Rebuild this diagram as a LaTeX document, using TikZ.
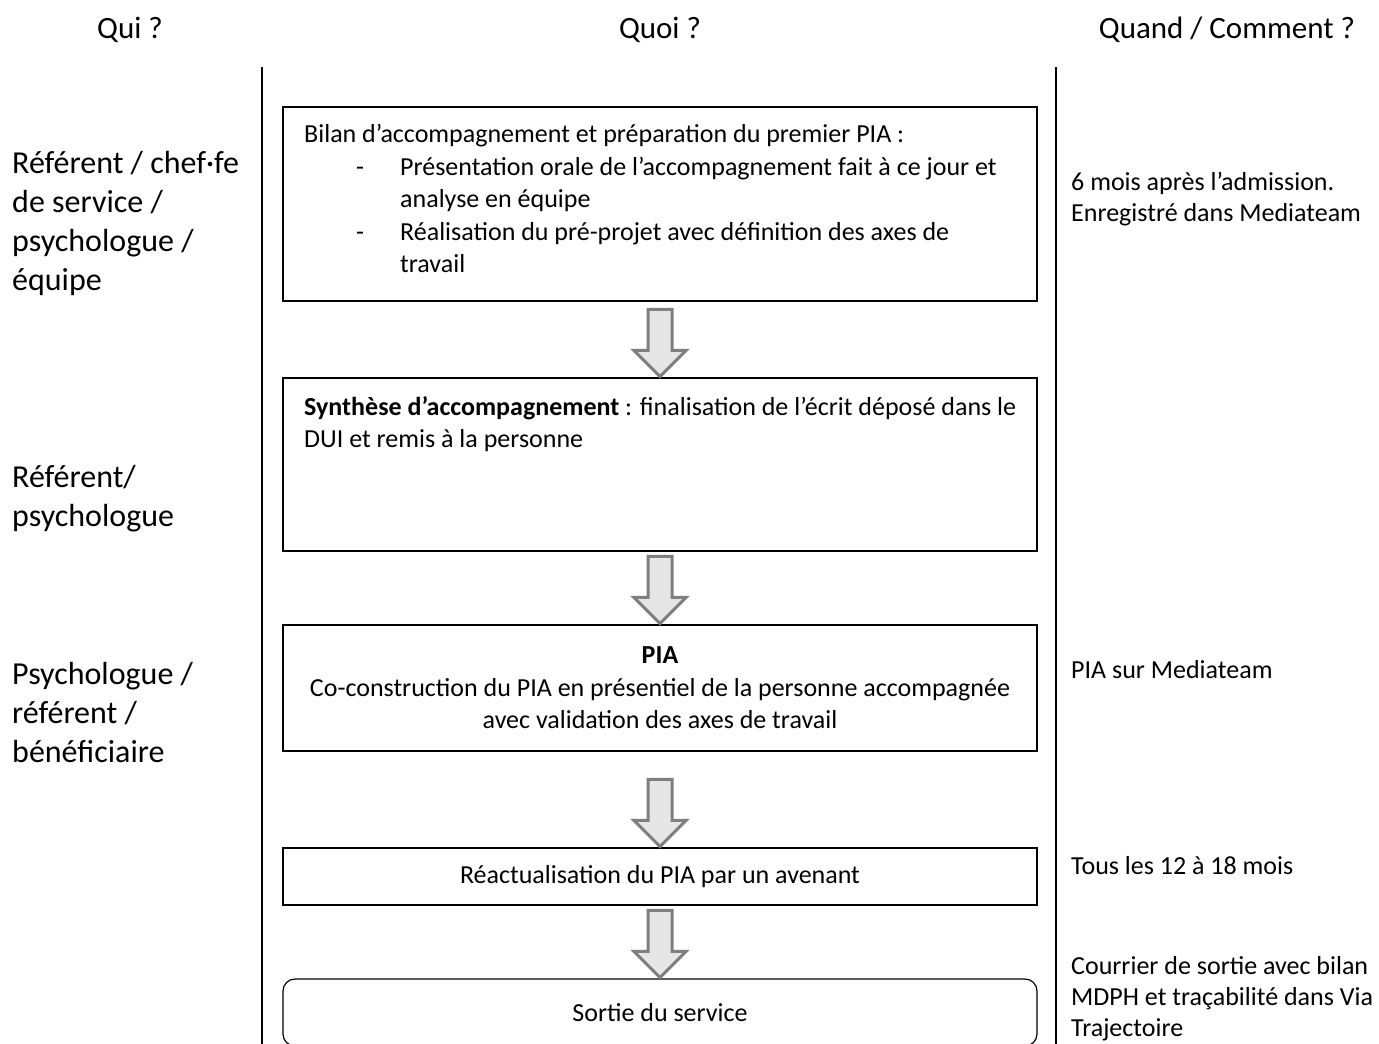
\documentclass[tikz,border=0pt]{standalone}
\usepackage{fontspec}
\setmainfont{Carlito}
\usetikzlibrary{calc,positioning}
\definecolor{arrowgray}{RGB}{127,127,127}
\definecolor{arrowfill}{RGB}{231,230,230}

% block arrow from the bottom of one box to the top of the next
\newcommand{\flowarrow}[2]{%
  \draw[bigarrow] let \p1=(#1.south), \p2=(#2.north) in
    (\x1-12pt,\y2+68pt) -- (\x1+12pt,\y2+68pt) -- (\x1+12pt,\y2+27pt)
    -- (\x1+26pt,\y2+27pt) -- (\x1,\y2+1pt) -- (\x1-26pt,\y2+27pt)
    -- (\x1-12pt,\y2+27pt) -- cycle;}

\begin{document}
\begin{tikzpicture}[x=1pt,y=-1pt,
    head/.style={font=\fontsize{31}{37}\selectfont, inner sep=0pt},
    who/.style={font=\fontsize{32}{39}\selectfont, align=left, anchor=west, inner sep=0pt},
    when/.style={font=\fontsize{26}{31}\selectfont, align=left, anchor=west, inner sep=0pt},
    stepbox/.style={draw, line width=1.2pt, minimum width=754pt, inner sep=0pt,
                    align=center, font=\fontsize{26}{32.5}\selectfont},
    boxtxt/.style={font=\fontsize{26}{32.5}\selectfont, align=left, anchor=north west, inner sep=0pt},
    bigarrow/.style={draw=arrowgray, fill=arrowfill, line width=3pt}]
    \path[use as bounding box, clip] (0,0) rectangle (1379,1044);

    % column titles
    \node[head] (qui) at (130,30) {Qui ?};
    \node[head] (quoi) at (660,30) {Quoi ?};
    \node[head] (quand) at (1227,30) {Quand / Comment ?};

    \draw[line width=2pt] (262,67) -- (262,1044);
    \draw[line width=2pt] (1056,67) -- (1056,1044);

    % steps
    \node[stepbox, minimum height=194pt] (bilan) at (660,204) {};
    \node[boxtxt] (bilantxt) at (304,124) {Bilan d’accompagnement et préparation du premier PIA :\\
        \hspace*{52pt}\makebox[44pt][l]{-}Présentation orale de l’accompagnement fait à ce jour et\\
        \hspace*{96pt}analyse en équipe\\
        \hspace*{52pt}\makebox[44pt][l]{-}Réalisation du pré-projet avec définition des axes de\\
        \hspace*{96pt}travail};

    \node[stepbox, minimum height=173pt] (synthese) at (660,464.5) {};
    \node[boxtxt] (synthesetxt) at (304,396) {\textbf{Synthèse d’accompagnement} : finalisation de l’écrit déposé dans le\\
        DUI et remis à la personne};

    \node[stepbox, minimum height=126pt] (pia) at (660,688) {\textbf{PIA}\\
        Co-construction du PIA en présentiel de la personne accompagnée\\
        avec validation des axes de travail};

    \node[stepbox, minimum height=57pt] (avenant) at (660,876.5) {Réactualisation du PIA par un avenant};

    \node[stepbox, rounded corners=12pt, minimum height=67pt] (sortie) at (660,1012.5) {Sortie du service};

    \flowarrow{bilan}{synthese}
    \flowarrow{synthese}{pia}
    \flowarrow{pia}{avenant}
    \flowarrow{avenant}{sortie}

    % who
    \node[who] (qui1) at (12,223.5) {Référent / chef·fe\\ de service /\\ psychologue /\\ équipe};
    \node[who] (qui2) at (12,498.5) {Référent/\\ psychologue};
    \node[who] (qui3) at (12,712.5) {Psychologue /\\ référent /\\ bénéficiaire};

    % when / how
    \node[when] (quand1) at (1071,199.5) {6 mois après l’admission.\\ Enregistré dans Mediateam};
    \node[when] (quand2) at (1071,670) {PIA sur Mediateam};
    \node[when] (quand3) at (1071,866) {Tous les 12 à 18 mois};
    \node[when] (quand4) at (1071,999) {Courrier de sortie avec bilan\\ MDPH et traçabilité dans Via\\ Trajectoire};
\end{tikzpicture}
\end{document}
